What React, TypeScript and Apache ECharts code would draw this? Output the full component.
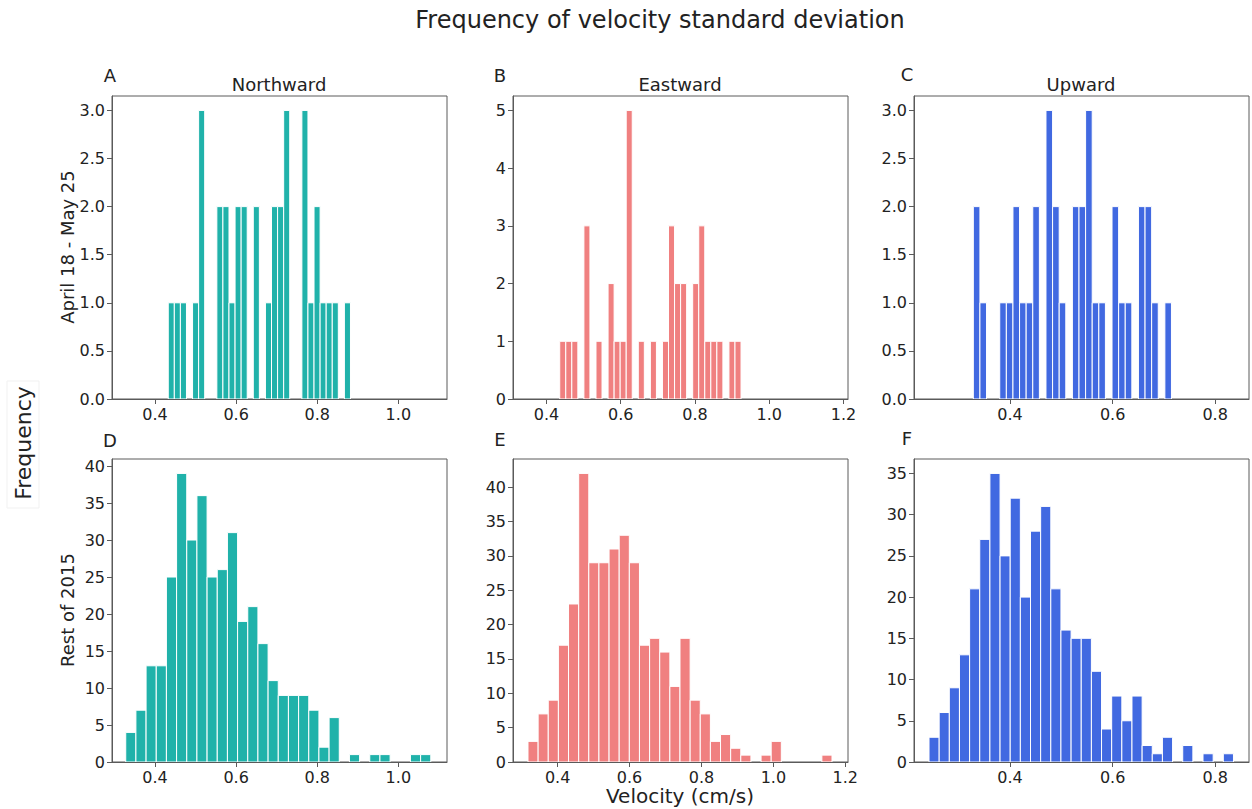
import React, { useEffect, useRef } from "react";
import * as echarts from "echarts";

// ---- data ----
const northTopCounts = [1,1,1,0,1,3,0,0,2,2,1,2,2,0,2,0,1,2,2,3,0,0,3,1,2,1,1,1,0,1];
const northTopRange = [0.4327, 0.882];
const eastTopCounts = [1,1,1,0,3,0,1,0,2,1,1,5,0,1,0,1,0,1,3,2,2,0,2,3,1,1,1,0,1,1];
const eastTopRange = [0.4358, 0.924];
const upTopCounts = [2,1,0,0,1,1,2,1,1,2,0,3,2,1,0,2,2,3,1,1,0,2,1,1,0,2,2,1,0,1];
const upTopRange = [0.3284, 0.7148];
const northRestCounts = [4,7,13,13,25,39,30,36,25,26,31,19,21,16,11,9,9,9,7,2,6,0,1,0,1,1,0,0,1,1];
const northRestRange = [0.3279, 1.08];
const eastRestCounts = [3,7,9,17,23,42,29,29,31,33,29,17,18,16,11,18,9,7,3,4,2,1,0,1,3,0,0,0,0,1];
const eastRestRange = [0.3177, 1.163];
const upRestCounts = [3,6,9,13,21,27,35,25,32,20,28,31,21,16,15,15,11,4,8,5,8,2,1,3,0,2,0,1,0,1];
const upRestRange = [0.242, 0.8357];

const xTicksNorth = [0.4, 0.6, 0.8, 1.0];
const xTicksEast = [0.4, 0.6, 0.8, 1.0, 1.2];
const xTicksUp = [0.4, 0.6, 0.8];
const yTicksTopHalf = [0, 0.5, 1.0, 1.5, 2.0, 2.5, 3.0];
const yTicksEastTop = [0, 1, 2, 3, 4, 5];
const yTicks40 = [0, 5, 10, 15, 20, 25, 30, 35, 40];
const yTicks35 = [0, 5, 10, 15, 20, 25, 30, 35];

const title = "Frequency of velocity standard deviation";
const colTitles = ["Northward", "Eastward", "Upward"];
const rowLabels = ["April 18 - May 25", "Rest of 2015"];
const panelLetters = ["A", "B", "C", "D", "E", "F"];
const xLabel = "Velocity (cm/s)";
const yLabel = "Frequency";

const TEAL = "#20b2aa";
const CORAL = "#f08080";
const BLUE = "#4169e1";
const FONT = '"DejaVu Sans", "Noto Sans", sans-serif';

type Panel = {
  counts: number[];
  range: number[];
  color: string;
  xMin: number;
  xMax: number;
  xTicks: number[];
  yMax: number;
  yTicks: number[];
  yDec: number;
  left: number;
  top: number;
};

const W = 335;
const H = 303;
const panels: Panel[] = [
  { counts: northTopCounts, range: northTopRange, color: TEAL, xMin: 0.294, xMax: 1.12, xTicks: xTicksNorth, yMax: 3.15, yTicks: yTicksTopHalf, yDec: 1, left: 112, top: 96 },
  { counts: eastTopCounts, range: eastTopRange, color: CORAL, xMin: 0.31, xMax: 1.212, xTicks: xTicksEast, yMax: 5.25, yTicks: yTicksEastTop, yDec: 0, left: 513, top: 96 },
  { counts: upTopCounts, range: upTopRange, color: BLUE, xMin: 0.2127, xMax: 0.866, xTicks: xTicksUp, yMax: 3.15, yTicks: yTicksTopHalf, yDec: 1, left: 914, top: 96 },
  { counts: northRestCounts, range: northRestRange, color: TEAL, xMin: 0.294, xMax: 1.12, xTicks: xTicksNorth, yMax: 40.95, yTicks: yTicks40, yDec: 0, left: 112, top: 459 },
  { counts: eastRestCounts, range: eastRestRange, color: CORAL, xMin: 0.276, xMax: 1.2075, xTicks: xTicksEast, yMax: 44.1, yTicks: yTicks40, yDec: 0, left: 513, top: 459 },
  { counts: upRestCounts, range: upRestRange, color: BLUE, xMin: 0.2127, xMax: 0.866, xTicks: xTicksUp, yMax: 36.75, yTicks: yTicks35, yDec: 0, left: 914, top: 459 },
];

function binsOf(counts: number[], range: number[]) {
  const w = (range[1] - range[0]) / counts.length;
  return counts.map((c, i) => [range[0] + i * w, range[0] + (i + 1) * w, c]);
}

const AXIS_COLOR = "#5a5a5a";
const TEXT_COLOR = "#222";

function buildOption() {
  const grid = panels.map((p) => ({
    left: p.left,
    top: p.top,
    width: W,
    height: H,
    show: true,
    borderColor: AXIS_COLOR,
    borderWidth: 1,
    backgroundColor: "transparent",
    containLabel: false,
  }));
  const xAxis = panels.map((p, i) => ({
    type: "value",
    gridIndex: i,
    min: p.xMin,
    max: p.xMax,
    axisLine: { show: true, onZero: false, lineStyle: { color: AXIS_COLOR, width: 1 } },
    axisTick: { show: true, inside: false, length: 5, customValues: p.xTicks, lineStyle: { color: AXIS_COLOR } },
    axisLabel: {
      show: true,
      customValues: p.xTicks,
      formatter: (v: number) => v.toFixed(1),
      fontSize: 16,
      fontFamily: FONT,
      color: TEXT_COLOR,
      margin: 7,
    },
    splitLine: { show: false },
  }));
  const yAxis = panels.map((p, i) => ({
    type: "value",
    gridIndex: i,
    min: 0,
    max: p.yMax,
    axisLine: { show: true, onZero: false, lineStyle: { color: AXIS_COLOR, width: 1 } },
    axisTick: { show: true, inside: false, length: 5, customValues: p.yTicks, lineStyle: { color: AXIS_COLOR } },
    axisLabel: {
      show: true,
      customValues: p.yTicks,
      formatter: (v: number) => v.toFixed(p.yDec),
      fontSize: 16,
      fontFamily: FONT,
      color: TEXT_COLOR,
      margin: 7,
    },
    splitLine: { show: false },
  }));
  const series = panels.map((p, i) => ({
    type: "custom",
    xAxisIndex: i,
    yAxisIndex: i,
    clip: true,
    data: binsOf(p.counts, p.range),
    encode: { x: [0, 1], y: 2 },
    renderItem: (_params: any, api: any) => {
      const c = api.value(2);
      if (!c) return null;
      const a = api.coord([api.value(0), c]);
      const b = api.coord([api.value(1), 0]);
      return {
        type: "rect",
        shape: { x: a[0], y: a[1], width: b[0] - a[0], height: b[1] - a[1] },
        style: { fill: p.color, stroke: "#ffffff", lineWidth: 1 },
      };
    },
  }));

  const txt = (text: string, x: number, y: number, size: number, rotation = 0) => ({
    type: "text",
    x,
    y,
    rotation,
    silent: true,
    style: {
      text,
      fill: TEXT_COLOR,
      font: `${size}px ${FONT}`,
      textAlign: "center",
      textVerticalAlign: "middle",
      align: "center",
      verticalAlign: "middle",
    },
  });

  const letterPos = [
    [110, 75], [500, 75], [907, 74],
    [110, 440], [500, 439], [907, 438],
  ];
  const graphic: any[] = [
    txt(title, 660, 20, 24),
    txt(colTitles[0], 279, 84, 18),
    txt(colTitles[1], 680, 84, 18),
    txt(colTitles[2], 1081, 84, 18),
    txt(rowLabels[0], 67, 247, 18, Math.PI / 2),
    txt(rowLabels[1], 67, 610, 18, Math.PI / 2),
    {
      type: "rect",
      silent: true,
      shape: { x: 7, y: 381, width: 32, height: 127 },
      style: { fill: "transparent", stroke: "#f1f1f1", lineWidth: 1 },
    },
    txt(yLabel, 23, 443, 22, Math.PI / 2),
    txt(xLabel, 680, 796, 20),
    ...panelLetters.map((l, i) => txt(l, letterPos[i][0], letterPos[i][1], 18)),
  ];

  return {
    animation: false,
    backgroundColor: "#ffffff",
    grid,
    xAxis,
    yAxis,
    series,
    graphic,
  };
}

export default function App() {
  const ref = useRef<HTMLDivElement>(null);
  useEffect(() => {
    if (!ref.current) return;
    const chart = echarts.init(ref.current, null, { renderer: "svg" });
    chart.setOption(buildOption() as any);
    return () => chart.dispose();
  }, []);
  return (
    <div
      ref={ref}
      style={{ position: "fixed", left: 0, top: 0, width: 1252, height: 809, background: "#fff" }}
    />
  );
}
